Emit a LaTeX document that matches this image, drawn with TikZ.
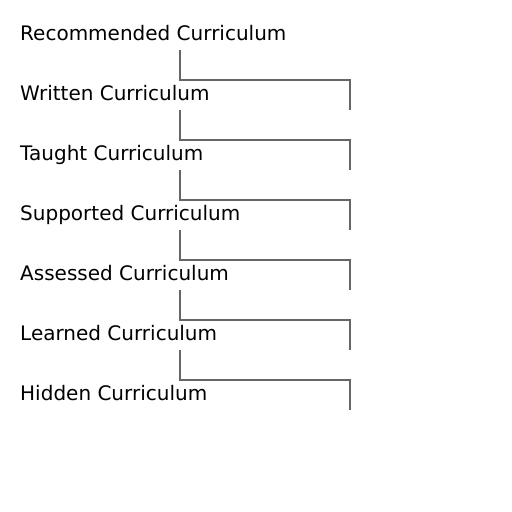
\documentclass[tikz,border=0pt]{standalone}
\usepackage{fontspec}
\setmainfont{DejaVu Sans}
\begin{document}
\begin{tikzpicture}[x=1pt,y=-1pt,
    stage/.style={anchor=base west, inner sep=0pt, font=\fontsize{20}{24}\selectfont},
    link/.style={draw=black!60, line width=1.25pt}]
        \useasboundingbox (0,0) rectangle (512,512);

        \node[stage] (c1) at (20, 40) {Recommended Curriculum};
        \node[stage] (c2) at (20, 100) {Written Curriculum};
        \node[stage] (c3) at (20, 160) {Taught Curriculum};
        \node[stage] (c4) at (20, 220) {Supported Curriculum};
        \node[stage] (c5) at (20, 280) {Assessed Curriculum};
        \node[stage] (c6) at (20, 340) {Learned Curriculum};
        \node[stage] (c7) at (20, 400) {Hidden Curriculum};

        \foreach \i/\j in {1/2, 2/3, 3/4, 4/5, 5/6, 6/7}
            \draw[link] ([xshift=160pt, yshift=-10pt]c\i.base west) -- ++(0,30)
                -| ([xshift=330pt, yshift=-10pt]c\j.base west);

    \end{tikzpicture}
\end{document}
